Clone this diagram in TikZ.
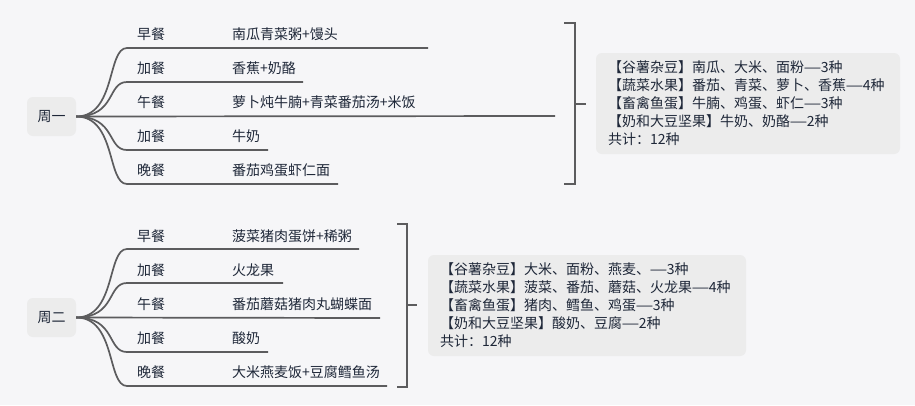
\documentclass[tikz,border=0pt]{standalone}
\usepackage{fontspec}
\setmainfont{Noto Sans CJK SC}
\definecolor{bgc}{HTML}{F6F6F8}
\definecolor{boxc}{HTML}{ECECEC}
\definecolor{linec}{HTML}{5C5C5E}
\definecolor{txt}{HTML}{1E2738}
\newcommand{\longdash}{\scalebox{0.72}[1]{——}}
\begin{document}
\begin{tikzpicture}[x=1pt,y=-1pt,
  branch/.style={draw=linec, line width=1.7pt},
  brk/.style={draw=linec, line width=1.7pt},
  day/.style={fill=boxc, rounded corners=6pt, minimum width=49pt, minimum height=39pt, inner sep=0pt, font=\fontsize{14}{16}\selectfont, text=txt},
  meal/.style={anchor=west, inner sep=0pt, font=\fontsize{14}{16}\selectfont, text=txt},
  sumbox/.style={fill=boxc, rounded corners=6pt, align=left, inner xsep=12pt, inner ysep=0pt, minimum height=101pt, font=\fontsize{14}{18}\selectfont, text=txt}]
\fill[bgc] (0,0) rectangle (915,405);
\useasboundingbox (0,0) rectangle (915,405);

% ---------- Week 1 ----------
\node[day] (d1) at (51.5,116.5) {周一};
\coordinate (s11) at (127,48);  \coordinate (e11) at (428,48);
\coordinate (s12) at (127,82);  \coordinate (e12) at (303,82);
\coordinate (e13) at (555,116);
\coordinate (s14) at (127,150); \coordinate (e14) at (268,150);
\coordinate (s15) at (127,184); \coordinate (e15) at (338,184);
\draw[branch] (d1.east) .. controls +(40,0) and +(-20,0) .. (s11) -- (e11);
\draw[branch] (d1.east) .. controls +(40,0) and +(-20,0) .. (s12) -- (e12);
\draw[branch] (d1.east) -- (e13);
\draw[branch] (d1.east) .. controls +(40,0) and +(-20,0) .. (s14) -- (e14);
\draw[branch] (d1.east) .. controls +(40,0) and +(-20,0) .. (s15) -- (e15);
\node[meal] (m11) at (137,34) {早餐};
\node[meal] (f11) at (232,34) {南瓜青菜粥+馒头};
\node[meal] (m12) at (137,68) {加餐};
\node[meal] (f12) at (232,68) {香蕉+奶酪};
\node[meal] (m13) at (137,102) {午餐};
\node[meal] (f13) at (232,102) {萝卜炖牛腩+青菜番茄汤+米饭};
\node[meal] (m14) at (137,136) {加餐};
\node[meal] (f14) at (232,136) {牛奶};
\node[meal] (m15) at (137,170) {晚餐};
\node[meal] (f15) at (232,170) {番茄鸡蛋虾仁面};
\coordinate (b1a) at (564,23); \coordinate (b1b) at (575,23);
\coordinate (b1c) at (575,184); \coordinate (b1d) at (564,184);
\coordinate (b1m) at (575,104); \coordinate (b1n) at (586,104);
\draw[brk] (b1a) -- (b1b) -- (b1c) -- (b1d);
\draw[brk] (b1m) -- (b1n);
\node[sumbox, text width=280pt] (sum1) at (748,103.5) {【谷薯杂豆】南瓜、大米、面粉\longdash 3种\\【蔬菜水果】番茄、青菜、萝卜、香蕉\longdash 4种\\【畜禽鱼蛋】牛腩、鸡蛋、虾仁\longdash 3种\\【奶和大豆坚果】牛奶、奶酪\longdash 2种\\共计：12种};

% ---------- Week 2 ----------
\node[day] (d2) at (51.5,317.5) {周二};
\coordinate (s21) at (127,249); \coordinate (e21) at (359,249);
\coordinate (s22) at (127,283); \coordinate (e22) at (283,283);
\coordinate (e23) at (380,318);
\coordinate (s24) at (127,352); \coordinate (e24) at (268,352);
\coordinate (s25) at (127,386); \coordinate (e25) at (387,386);
\draw[branch] (d2.east) .. controls +(40,0) and +(-20,0) .. (s21) -- (e21);
\draw[branch] (d2.east) .. controls +(40,0) and +(-20,0) .. (s22) -- (e22);
\draw[branch] (d2.east) -- (e23);
\draw[branch] (d2.east) .. controls +(40,0) and +(-20,0) .. (s24) -- (e24);
\draw[branch] (d2.east) .. controls +(40,0) and +(-20,0) .. (s25) -- (e25);
\node[meal] (m21) at (137,236) {早餐};
\node[meal] (f21) at (232,236) {菠菜猪肉蛋饼+稀粥};
\node[meal] (m22) at (137,270) {加餐};
\node[meal] (f22) at (232,270) {火龙果};
\node[meal] (m23) at (137,304) {午餐};
\node[meal] (f23) at (232,304) {番茄蘑菇猪肉丸蝴蝶面};
\node[meal] (m24) at (137,338) {加餐};
\node[meal] (f24) at (232,338) {酸奶};
\node[meal] (m25) at (137,372) {晚餐};
\node[meal] (f25) at (232,372) {大米燕麦饭+豆腐鳕鱼汤};
\coordinate (b2a) at (397,224); \coordinate (b2b) at (407,224);
\coordinate (b2c) at (407,387); \coordinate (b2d) at (397,387);
\coordinate (b2m) at (407,305); \coordinate (b2n) at (417,305);
\draw[brk] (b2a) -- (b2b) -- (b2c) -- (b2d);
\draw[brk] (b2m) -- (b2n);
\node[sumbox, text width=294pt] (sum2) at (587,305.5) {【谷薯杂豆】大米、面粉、燕麦、\longdash 3种\\【蔬菜水果】菠菜、番茄、蘑菇、火龙果\longdash 4种\\【畜禽鱼蛋】猪肉、鳕鱼、鸡蛋\longdash 3种\\【奶和大豆坚果】酸奶、豆腐\longdash 2种\\共计：12种};
\end{tikzpicture}
\end{document}
